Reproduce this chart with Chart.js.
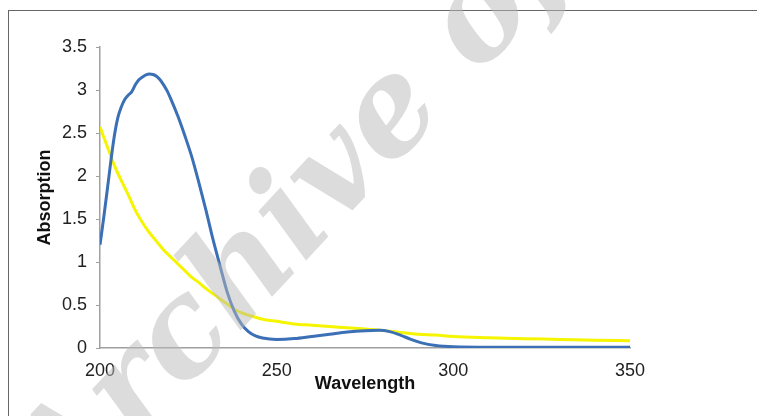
<!DOCTYPE html>
<html>
<head>
<meta charset="utf-8">
<script src="https://cdn.jsdelivr.net/npm/chart.js@4.4.1/dist/chart.umd.min.js"></script>
<style>
  html, body { margin: 0; padding: 0; background: #fff; overflow: hidden; }
  #wrap { position: relative; width: 757px; height: 416px; overflow: hidden; }
  #graficoAbs { position: absolute; left: 0; top: 0; }
  #frame {
    position: absolute; left: 8px; top: 10px; width: 760px; height: 420px;
    border-top: 1px solid #666; border-left: 1px solid #666; pointer-events: none;
  }
  #marca {
    position: absolute; left: 80px; top: 400px; white-space: nowrap;
    font: italic bold 132px "DejaVu Serif", serif; line-height: 132px;
    color: rgba(185, 185, 185, 0.5);
    transform-origin: 0 100%; transform: rotate(-47deg); pointer-events: none;
  }
</style>
</head>
<body>
<div id="wrap">
  <canvas id="graficoAbs" width="757" height="416"></canvas>
  <div id="frame"></div>
  <div id="marca">Archive of SID</div>
</div>
<script>
// blue series
const ondaAzul = [200, 201, 202, 203, 204, 205, 206, 207, 208, 209, 210, 211, 212, 213, 214, 215, 216, 217, 218, 219,
  220, 222, 224, 226, 228, 230, 232, 234, 236, 238, 240, 242, 244, 246, 250, 255, 260, 265, 270, 275, 279, 282,
  285, 288, 291, 295, 300, 310, 320, 335, 350];
const absAzul = [1.2, 1.5, 1.82, 2.15, 2.45, 2.67, 2.8, 2.89, 2.94, 2.98, 3.06, 3.12, 3.15, 3.175, 3.185, 3.18, 3.16, 3.12, 3.06, 2.99,
  2.9, 2.7, 2.47, 2.22, 1.92, 1.6, 1.26, 0.95, 0.65, 0.43, 0.28, 0.19, 0.14, 0.116, 0.1, 0.11, 0.135, 0.16, 0.185, 0.2, 0.205, 0.19,
  0.15, 0.1, 0.06, 0.03, 0.015, 0.01, 0.01, 0.01, 0.01];

// yellow series
const ondaAmarela = [200, 202, 204, 206, 208, 210, 212, 214, 216, 218, 220, 222, 224, 226, 228, 230, 232, 234, 236, 238,
  240, 243, 246, 250, 255, 260, 265, 270, 275, 280, 285, 290, 295, 300, 310, 320, 330, 340, 350];
const absAmarela = [2.57, 2.35, 2.13, 1.95, 1.78, 1.6, 1.46, 1.34, 1.24, 1.14, 1.06, 0.98, 0.9, 0.82, 0.76, 0.69, 0.63, 0.57, 0.51, 0.45,
  0.41, 0.37, 0.335, 0.31, 0.28, 0.265, 0.25, 0.235, 0.22, 0.205, 0.18, 0.16, 0.15, 0.135, 0.12, 0.108, 0.1, 0.09, 0.085];

const ticksX = [200, 250, 300, 350];
const ticksY = [0, 0.5, 1, 1.5, 2, 2.5, 3, 3.5];
const rotulosY = ['0', '0.5', '1', '1.5', '2', '2.5', '3', '3.5'];

const pares = (xs, ys) => xs.map((x, i) => ({ x: x, y: ys[i] }));

const fonte = { family: '"Liberation Sans", Arial, sans-serif', size: 18 };
const fonteTitulo = { family: '"Liberation Sans", Arial, sans-serif', size: 18, weight: 'bold' };

new Chart(document.getElementById('graficoAbs').getContext('2d'), {
  type: 'line',
  data: {
    datasets: [{
      label: 'Amostra',
      data: pares(ondaAzul, absAzul),
      borderColor: '#3b6fb6',
      borderWidth: 3,
      pointRadius: 0,
      cubicInterpolationMode: 'monotone',
      fill: false
    }, {
      label: 'Controle',
      data: pares(ondaAmarela, absAmarela),
      borderColor: '#f5f500',
      borderWidth: 3,
      pointRadius: 0,
      cubicInterpolationMode: 'monotone',
      fill: false
    }]
  },
  options: {
    responsive: false,
    animation: false,
    layout: { padding: { left: 0, top: 47, right: 127, bottom: 0 } },
    plugins: {
      legend: { display: false },
      tooltip: { enabled: false }
    },
    scales: {
      x: {
        type: 'linear',
        min: 200,
        max: 350,
        afterBuildTicks: (s) => { s.ticks = ticksX.map(v => ({ value: v })); },
        afterFit: (s) => { s.height = 68; },
        grid: { drawOnChartArea: false, drawTicks: false },
        border: { color: '#a0a0a0', width: 1.5 },
        ticks: { color: '#222', font: fonte, padding: 12, maxRotation: 0 },
        title: { display: true, text: 'Wavelength', color: '#111', font: fonteTitulo, padding: { top: 0, bottom: 21 } }
      },
      y: {
        min: 0,
        max: 3.5,
        afterBuildTicks: (s) => { s.ticks = ticksY.map(v => ({ value: v })); },
        afterFit: (s) => { s.width = 100; },
        grid: { drawOnChartArea: false, drawTicks: true, tickLength: 4, color: '#a0a0a0' },
        border: { color: '#a0a0a0', width: 1.5 },
        ticks: {
          color: '#222', font: fonte, padding: 9,
          callback: (v) => rotulosY[ticksY.indexOf(v)]
        },
        title: { display: true, text: 'Absorption', color: '#111', font: fonteTitulo, padding: { top: 34, bottom: 0 } }
      }
    }
  }
});
</script>
</body>
</html>
